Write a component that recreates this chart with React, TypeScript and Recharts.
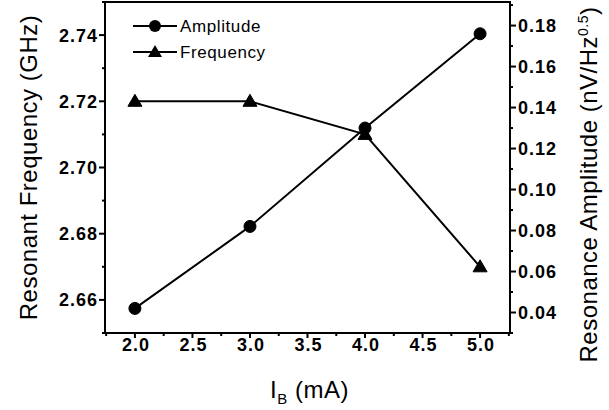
import { LineChart, Line, XAxis, YAxis, ReferenceArea } from "recharts";

const currents = [2.0, 3.0, 4.0, 5.0];
const amplitude = [0.042, 0.082, 0.13, 0.176];
const frequency = [2.72, 2.72, 2.71, 2.67];

const xTicks = [1.75, 2.0, 2.25, 2.5, 2.75, 3.0, 3.25, 3.5, 3.75, 4.0, 4.25, 4.5, 4.75, 5.0, 5.25];
const freqTicks = [2.65, 2.66, 2.67, 2.68, 2.69, 2.7, 2.71, 2.72, 2.73, 2.74, 2.75];
const ampTicks = [0.03, 0.04, 0.05, 0.06, 0.07, 0.08, 0.09, 0.1, 0.11, 0.12, 0.13, 0.14, 0.15, 0.16, 0.17, 0.18, 0.19];

const data = currents.map((c, i) => ({
  current: c,
  amplitude: amplitude[i],
  frequency: frequency[i],
}));

const FONT = "'Liberation Sans', Arial, sans-serif";

const tickText = {
  fontFamily: FONT,
  fontSize: 18,
  fontWeight: 700,
  letterSpacing: 1,
  fill: "#000",
};

const titleText = {
  fontFamily: FONT,
  fontSize: 24,
  letterSpacing: 0.5,
  fill: "#000",
};

const legendText = { fontFamily: FONT, fontSize: 17, letterSpacing: 0.6, fill: "#000" };

// even hundredths get a label, odd ones are minor ticks
const isEvenHundredth = (v: number) => Math.round(v * 100) % 2 === 0;

const BottomTick = (props: any) => {
  const { x, y, payload } = props;
  const v = payload.value;
  const major = Math.abs(v * 2 - Math.round(v * 2)) < 1e-6;
  return (
    <g>
      <line x1={x} x2={x} y1={y} y2={y + (major ? 5 : 3)} stroke="#000" strokeWidth={2} />
      {major && (
        <text x={x + 1} y={y + 17.5} textAnchor="middle" style={tickText}>
          {v.toFixed(1)}
        </text>
      )}
    </g>
  );
};

const LeftTick = (props: any) => {
  const { x, y, payload } = props;
  const major = isEvenHundredth(payload.value);
  return (
    <g>
      <line x1={x} x2={x - (major ? 6 : 3)} y1={y} y2={y} stroke="#000" strokeWidth={2} />
      {major && (
        <text x={x - 7} y={y + 6.5} textAnchor="end" style={tickText}>
          {payload.value.toFixed(2)}
        </text>
      )}
    </g>
  );
};

const RightTick = (props: any) => {
  const { x, y, payload } = props;
  const major = isEvenHundredth(payload.value);
  return (
    <g>
      <line x1={x} x2={x + (major ? 6 : 3)} y1={y} y2={y} stroke="#000" strokeWidth={2} />
      {major && (
        <text x={x + 8} y={y + 6.5} textAnchor="start" style={tickText}>
          {payload.value.toFixed(2)}
        </text>
      )}
    </g>
  );
};

const TriangleDot = (props: any) => {
  const { cx, cy } = props;
  if (cx == null || cy == null) return null;
  return (
    <polygon
      points={`${cx},${cy - 7} ${cx - 7},${cy + 5} ${cx + 7},${cy + 5}`}
      fill="#000"
      stroke="#000"
    />
  );
};

const LeftTitle = (props: any) => {
  const vb = props.viewBox;
  const cx = vb.x + 37;
  const cy = vb.y + vb.height / 2;
  return (
    <text x={cx} y={cy} transform={`rotate(-90, ${cx}, ${cy})`} textAnchor="middle" style={titleText}>
      Resonant Frequency (GHz)
    </text>
  );
};

const RightTitle = (props: any) => {
  const vb = props.viewBox;
  const cx = vb.x + 87;
  const cy = vb.y + vb.height / 2 + 17;
  return (
    <text x={cx} y={cy} transform={`rotate(-90, ${cx}, ${cy})`} textAnchor="middle" style={titleText}>
      Resonance Amplitude (nV/Hz
      <tspan dy={-9} fontSize={14}>0.5</tspan>
      <tspan dy={9}>)</tspan>
    </text>
  );
};

const BottomTitle = (props: any) => {
  const vb = props.viewBox;
  const cx = vb.x + vb.width / 2 + 2;
  return (
    <text x={cx} y={vb.y + 65} textAnchor="middle" style={titleText}>
      I
      <tspan dy={6} fontSize={15}>B</tspan>
      <tspan dy={-6}> (mA)</tspan>
    </text>
  );
};

const LegendBox = () => (
  <svg width={320} height={70} style={{ position: "absolute", left: 0, top: 0, pointerEvents: "none" }}>
    <line x1={133} x2={177} y1={26} y2={26} stroke="#000" strokeWidth={2} />
    <circle cx={155} cy={26} r={6} fill="#000" />
    <text x={180} y={32} style={legendText}>
      Amplitude
    </text>
    <line x1={133} x2={177} y1={52} y2={52} stroke="#000" strokeWidth={2} />
    <polygon points="155,45 148,57 162,57" fill="#000" />
    <text x={180} y={58} style={legendText}>
      Frequency
    </text>
  </svg>
);

export default function App() {
  return (
    <div style={{ position: "absolute", left: 0, top: 0, width: 609, height: 410, background: "#fff" }}>
      <LineChart width={609} height={410} data={data} margin={{ top: 2, right: 0, bottom: 0, left: 0 }}>
        <XAxis
          dataKey="current"
          type="number"
          domain={[1.74, 5.26]}
          ticks={xTicks}
          interval={0}
          height={77}
          tickSize={0}
          tickMargin={0}
          tickLine={false}
          axisLine={{ stroke: "#000", strokeWidth: 2 }}
          tick={(p: any) => <BottomTick {...p} />}
          label={(p: any) => <BottomTitle {...p} />}
        />
        <YAxis
          yAxisId="left"
          orientation="left"
          type="number"
          domain={[2.65, 2.75]}
          ticks={freqTicks}
          interval={0}
          width={105}
          tickSize={0}
          tickMargin={0}
          tickLine={false}
          axisLine={{ stroke: "#000", strokeWidth: 2 }}
          tick={(p: any) => <LeftTick {...p} />}
          label={(p: any) => <LeftTitle {...p} />}
        />
        <YAxis
          yAxisId="right"
          orientation="right"
          type="number"
          domain={[0.03, 0.1915]}
          ticks={ampTicks}
          interval={0}
          width={99}
          tickSize={0}
          tickMargin={0}
          tickLine={false}
          axisLine={{ stroke: "#000", strokeWidth: 2 }}
          tick={(p: any) => <RightTick {...p} />}
          label={(p: any) => <RightTitle {...p} />}
        />
        {/* box frame around the plot */}
        <ReferenceArea
          yAxisId="left"
          x1={1.74}
          x2={5.26}
          y1={2.65}
          y2={2.75}
          fill="none"
          fillOpacity={0}
          stroke="#000"
          strokeWidth={2}
          ifOverflow="visible"
        />
        <Line
          yAxisId="left"
          dataKey="frequency"
          type="linear"
          stroke="#000"
          strokeWidth={2}
          dot={(p: any) => <TriangleDot key={`t-${p.index}`} {...p} />}
          isAnimationActive={false}
        />
        <Line
          yAxisId="right"
          dataKey="amplitude"
          type="linear"
          stroke="#000"
          strokeWidth={2}
          dot={{ r: 6, fill: "#000", stroke: "#000", strokeWidth: 1 }}
          isAnimationActive={false}
        />
      </LineChart>
      <LegendBox />
    </div>
  );
}
